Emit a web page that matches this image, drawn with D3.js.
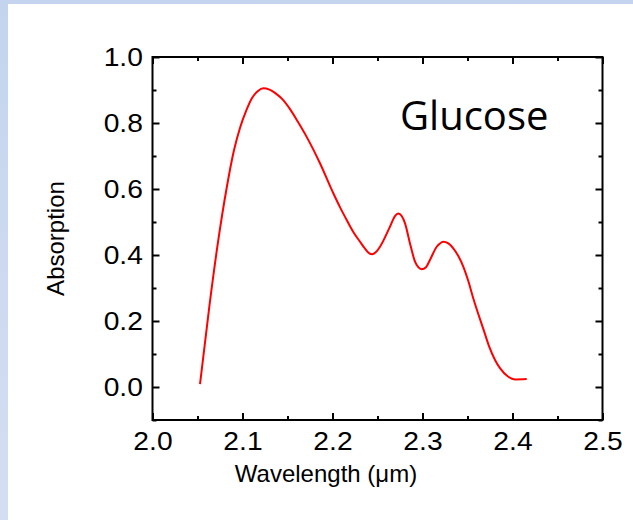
<!DOCTYPE html>
<html>
<head>
<meta charset="utf-8">
<script src="https://cdn.jsdelivr.net/npm/d3@7"></script>
<style>
  html, body { margin: 0; padding: 0; background: #fff; }
  svg { display: block; }
</style>
</head>
<body>
<div id="chart"></div>
<script>
// spectrum
const wavelength = [2.0528, 2.0631, 2.0731, 2.0824, 2.0906, 2.0972, 2.1039, 2.1106, 2.1172, 2.1231,
  2.1300, 2.1372, 2.1450, 2.1528, 2.1617, 2.1713, 2.1861, 2.2009, 2.2083, 2.2158,
  2.2231, 2.2306, 2.2361, 2.2400, 2.2440, 2.2480, 2.2528, 2.2639, 2.2694, 2.2731, 2.2769,
  2.2806, 2.2861, 2.2917, 2.2953, 2.2991, 2.3039, 2.3083, 2.3158, 2.3194, 2.3231,
  2.3287, 2.3342, 2.3398, 2.3453, 2.3509, 2.3564, 2.3683, 2.3739, 2.3806, 2.3861,
  2.3953, 2.4028, 2.4158];
const absorption = [0.009, 0.243, 0.445, 0.603, 0.718, 0.785, 0.836, 0.876, 0.897, 0.905,
  0.901, 0.889, 0.870, 0.842, 0.803, 0.758, 0.678, 0.587, 0.545, 0.506,
  0.470, 0.440, 0.419, 0.407, 0.402, 0.408, 0.425, 0.486, 0.518, 0.526, 0.518,
  0.496, 0.435, 0.380, 0.363, 0.357, 0.363, 0.385, 0.425, 0.435, 0.440,
  0.435, 0.420, 0.397, 0.365, 0.321, 0.269, 0.170, 0.124, 0.082, 0.057,
  0.031, 0.023, 0.024];
const xTicks = [2.0, 2.1, 2.2, 2.3, 2.4, 2.5];
const xMinor = [2.05, 2.15, 2.25, 2.35, 2.45];
const yTicks = [0.0, 0.2, 0.4, 0.6, 0.8, 1.0];
const yMinor = [-0.1, 0.1, 0.3, 0.5, 0.7, 0.9];
const label = 'Glucose';

const width = 633, height = 520;
const plotL = 152.5, plotR = 602.5, plotT = 57, plotB = 420;

const svg = d3.select('#chart').append('svg')
  .attr('width', width)
  .attr('height', height);

// slide background: blue edge strips
const grad = svg.append('defs').append('linearGradient')
  .attr('id', 'bg').attr('x1', 0).attr('y1', 0).attr('x2', 0).attr('y2', 1);
grad.append('stop').attr('offset', '0%').attr('stop-color', '#c4d4ee');
grad.append('stop').attr('offset', '100%').attr('stop-color', '#d4def2');
svg.append('rect').attr('width', width).attr('height', height).attr('fill', 'url(#bg)');
svg.append('rect').attr('x', 8).attr('y', 4).attr('width', width - 8).attr('height', height - 4).attr('fill', '#fff');

const x = d3.scaleLinear().domain([2.0, 2.5]).range([plotL, plotR]);
const y = d3.scaleLinear().domain([-0.1, 1.0]).range([plotB, plotT]);

const font = '"Liberation Sans", Arial, sans-serif';

function styleAxis(g) {
  g.select('.domain').remove();
  g.selectAll('.tick line').attr('stroke', '#000').attr('stroke-width', 2);
  g.selectAll('.tick text')
    .attr('fill', '#000')
    .attr('transform', 'scale(1.13,1)')
    .style('font-family', font).style('font-size', '25px');
}

// bottom
svg.append('g').attr('transform', `translate(0,${plotB})`)
  .call(d3.axisBottom(x).tickValues(xTicks).tickFormat(d3.format('.1f')).tickSizeInner(-7).tickSizeOuter(0).tickPadding(12))
  .call(styleAxis);
svg.append('g').attr('transform', `translate(0,${plotB})`)
  .call(d3.axisBottom(x).tickValues(xMinor).tickFormat('').tickSizeInner(-4).tickSizeOuter(0))
  .call(styleAxis);
// top
svg.append('g').attr('transform', `translate(0,${plotT})`)
  .call(d3.axisTop(x).tickValues(xTicks).tickFormat('').tickSizeInner(-7).tickSizeOuter(0))
  .call(styleAxis);
svg.append('g').attr('transform', `translate(0,${plotT})`)
  .call(d3.axisTop(x).tickValues(xMinor).tickFormat('').tickSizeInner(-4).tickSizeOuter(0))
  .call(styleAxis);
// left
svg.append('g').attr('transform', `translate(${plotL},0)`)
  .call(d3.axisLeft(y).tickValues(yTicks).tickFormat(d3.format('.1f')).tickSizeInner(-7).tickSizeOuter(0).tickPadding(8.5))
  .call(styleAxis);
svg.append('g').attr('transform', `translate(${plotL},0)`)
  .call(d3.axisLeft(y).tickValues(yMinor).tickFormat('').tickSizeInner(-4).tickSizeOuter(0))
  .call(styleAxis);
// right
svg.append('g').attr('transform', `translate(${plotR},0)`)
  .call(d3.axisRight(y).tickValues(yTicks).tickFormat('').tickSizeInner(-7).tickSizeOuter(0))
  .call(styleAxis);
svg.append('g').attr('transform', `translate(${plotR},0)`)
  .call(d3.axisRight(y).tickValues(yMinor).tickFormat('').tickSizeInner(-4).tickSizeOuter(0))
  .call(styleAxis);

// frame
svg.append('rect')
  .attr('x', plotL).attr('y', plotT)
  .attr('width', plotR - plotL).attr('height', plotB - plotT)
  .attr('fill', 'none').attr('stroke', '#000').attr('stroke-width', 2);

// curve
const pts = wavelength.map((w, i) => [w, absorption[i]]);
const line = d3.line()
  .x(d => x(d[0]))
  .y(d => y(d[1]))
  .curve(d3.curveMonotoneX);

svg.append('path')
  .datum(pts)
  .attr('d', line)
  .attr('fill', 'none')
  .attr('stroke', '#ff0000')
  .attr('stroke-width', 2)
  .attr('stroke-linejoin', 'round');

// titles
svg.append('text')
  .attr('x', 326).attr('y', 482)
  .attr('text-anchor', 'middle')
  .style('font-family', font).style('font-size', '24px')
  .text('Wavelength (μm)');

svg.append('text')
  .attr('transform', `translate(63.5,${(plotT + plotB) / 2}) rotate(-90)`)
  .attr('text-anchor', 'middle')
  .style('font-family', font).style('font-size', '24px')
  .text('Absorption');

svg.append('text')
  .attr('x', 400).attr('y', 129.5)
  .style('font-family', '"Open Sans", sans-serif').style('font-size', '40px')
  .text(label);
</script>
</body>
</html>
